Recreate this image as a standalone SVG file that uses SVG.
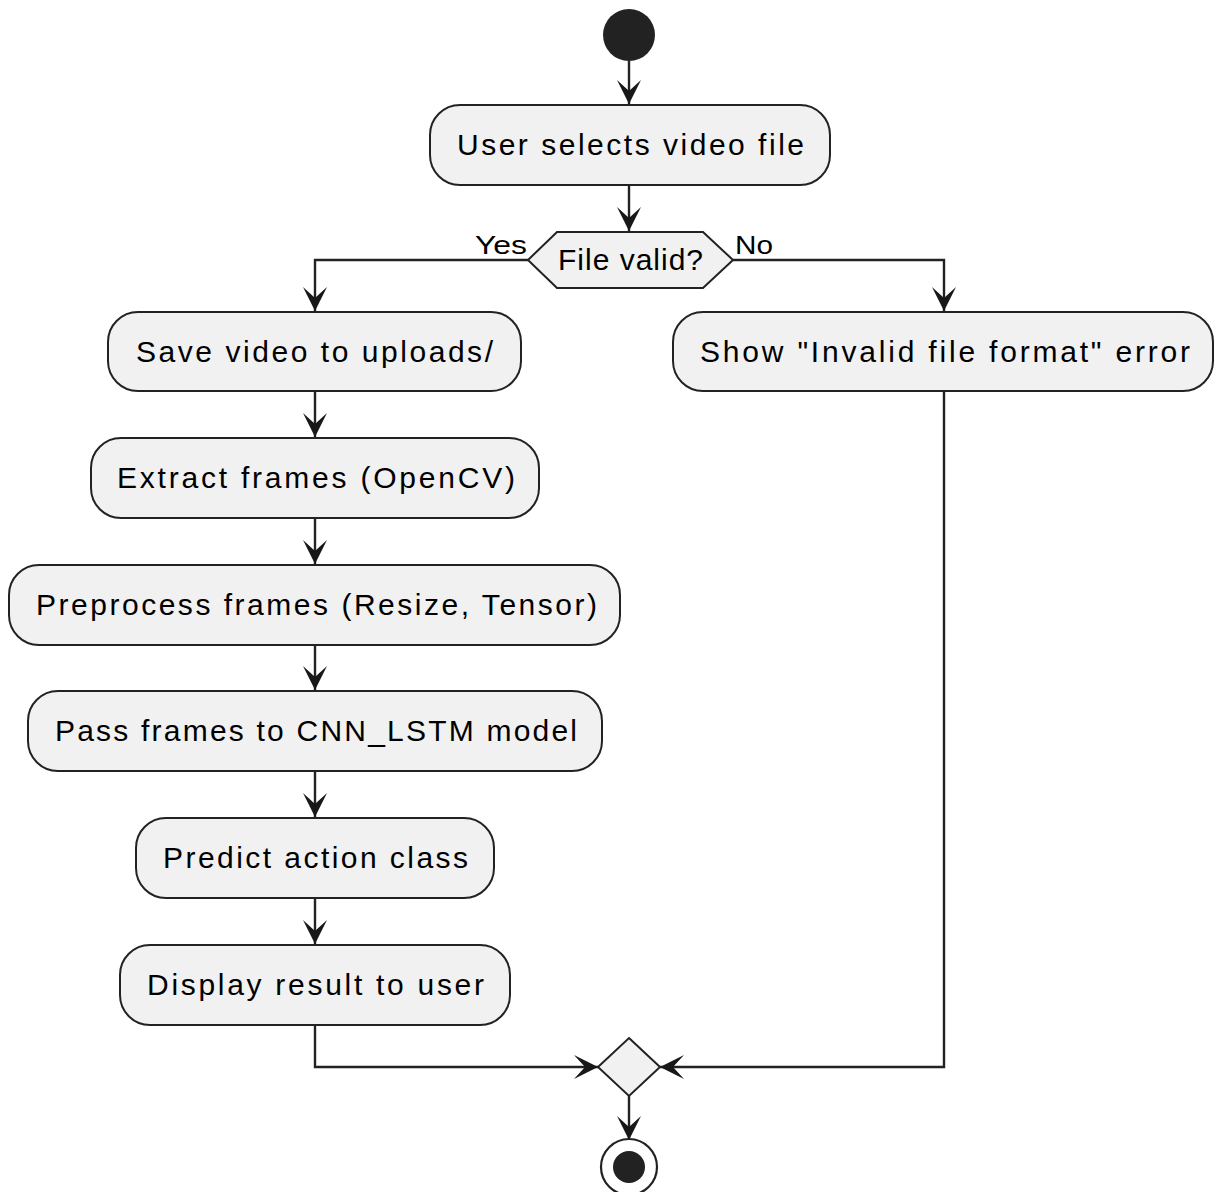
<svg xmlns="http://www.w3.org/2000/svg" width="1214" height="1192" viewBox="0 0 1214 1192">
  <defs>
    <style>
      .act { fill: #F1F1F1; stroke: #222222; stroke-width: 2; }
      .lbl { font-family: "Liberation Sans", Arial, sans-serif; font-size: 30px; fill: #000; text-anchor: middle; }
      .small { font-family: "Liberation Sans", Arial, sans-serif; font-size: 26px; fill: #000; }
      .edge { fill: none; stroke: #222222; stroke-width: 2.4; }
      .head { fill: #181818; stroke: none; }
    </style>
    <marker id="arrow" viewBox="0 0 26 26" refX="24" refY="13" markerWidth="26" markerHeight="26" markerUnits="userSpaceOnUse" orient="auto">
      <path class="head" d="M24 13 L0 1 L11 13 L0 25 Z"/>
    </marker>
  </defs>
  <rect width="1214" height="1192" fill="#FFFFFF"/>

  <g id="connectors">
    <path class="edge" d="M629 61 V104" marker-end="url(#arrow)"/>
    <path class="edge" d="M629 185 V231" marker-end="url(#arrow)"/>
    <path class="edge" d="M528 260 H315 V311" marker-end="url(#arrow)"/>
    <path class="edge" d="M733 260 H944 V311" marker-end="url(#arrow)"/>
    <path class="edge" d="M315 391 V437" marker-end="url(#arrow)"/>
    <path class="edge" d="M315 518 V564" marker-end="url(#arrow)"/>
    <path class="edge" d="M315 645 V690" marker-end="url(#arrow)"/>
    <path class="edge" d="M315 771 V817" marker-end="url(#arrow)"/>
    <path class="edge" d="M315 898 V944" marker-end="url(#arrow)"/>
    <path class="edge" d="M315 1025 V1067 H598" marker-end="url(#arrow)"/>
    <path class="edge" d="M944 391 V1067 H660" marker-end="url(#arrow)"/>
    <path class="edge" d="M629 1096 V1140" marker-end="url(#arrow)"/>
    <text class="small" x="475" y="254" textLength="52" lengthAdjust="spacingAndGlyphs">Yes</text>
    <text class="small" x="735" y="254" textLength="38" lengthAdjust="spacingAndGlyphs">No</text>
  </g>

  <g id="start">
    <circle cx="629" cy="35" r="26" fill="#222222"/>
  </g>

  <g id="select">
    <rect class="act" x="430" y="105" width="400" height="80" rx="30"/>
    <text class="lbl" x="630.5" y="155" textLength="347" lengthAdjust="spacing">User selects video file</text>
  </g>

  <g id="valid">
    <polygon class="act" points="528,260 557,232 703,232 733,260 703,288 557,288"/>
    <text class="lbl" x="630.5" y="270" font-size="28" textLength="145" lengthAdjust="spacing">File valid?</text>
  </g>

  <g id="save">
    <rect class="act" x="108" y="312" width="413" height="79" rx="30"/>
    <text class="lbl" x="314.5" y="362" textLength="357" lengthAdjust="spacing">Save video to uploads/</text>
  </g>

  <g id="error">
    <rect class="act" x="673" y="312" width="540" height="79" rx="30"/>
    <text class="lbl" x="945" y="362" textLength="490" lengthAdjust="spacing">Show "Invalid file format" error</text>
  </g>

  <g id="extract">
    <rect class="act" x="91" y="438" width="448" height="80" rx="30"/>
    <text class="lbl" x="316" y="488" textLength="398" lengthAdjust="spacing">Extract frames (OpenCV)</text>
  </g>

  <g id="preprocess">
    <rect class="act" x="9" y="565" width="611" height="80" rx="30"/>
    <text class="lbl" x="316.5" y="615" textLength="561" lengthAdjust="spacing">Preprocess frames (Resize, Tensor)</text>
  </g>

  <g id="model">
    <rect class="act" x="28" y="691" width="574" height="80" rx="30"/>
    <text class="lbl" x="316" y="741" textLength="522" lengthAdjust="spacing">Pass frames to CNN_LSTM model</text>
  </g>

  <g id="predict">
    <rect class="act" x="136" y="818" width="358" height="80" rx="30"/>
    <text class="lbl" x="315.5" y="868" textLength="305" lengthAdjust="spacing">Predict action class</text>
  </g>

  <g id="display">
    <rect class="act" x="120" y="945" width="390" height="80" rx="30"/>
    <text class="lbl" x="315.5" y="995" textLength="337" lengthAdjust="spacing">Display result to user</text>
  </g>

  <g id="merge">
    <polygon class="act" points="629,1038 660,1067 629,1096 598,1067"/>
  </g>

  <g id="end">
    <circle cx="629" cy="1167" r="28" fill="none" stroke="#222222" stroke-width="2.2"/>
    <circle cx="629" cy="1167" r="16" fill="#222222"/>
  </g>
</svg>
